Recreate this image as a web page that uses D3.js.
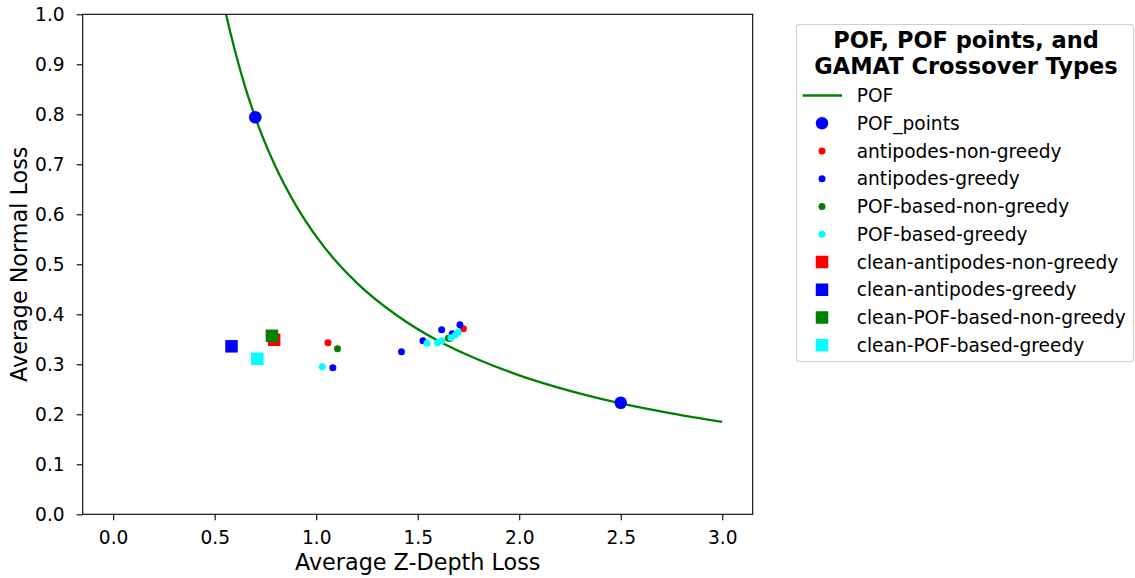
<!DOCTYPE html>
<html>
<head>
<meta charset="utf-8">
<script src="https://cdn.jsdelivr.net/npm/d3@7"></script>
<style>
  body { margin: 0; background: #fff; }
  svg { font-family: "DejaVu Sans", sans-serif; }
</style>
</head>
<body>
<div id="chart"></div>
<script>
// POF curve
const pofX = [0.50, 0.55, 0.60, 0.65, 0.70, 0.80, 0.90, 1.00, 1.10, 1.20, 1.40, 1.60, 1.80, 2.00, 2.25, 2.50, 2.75, 3.00];
const pofY = [1.112, 1.011, 0.927, 0.855, 0.794, 0.695, 0.618, 0.556, 0.505, 0.463, 0.397, 0.347, 0.309, 0.278, 0.247, 0.222, 0.202, 0.185];

const pofPointsX = [0.70, 2.50];
const pofPointsY = [0.794, 0.223];

const antipodesNonGreedyX = [1.058, 1.660, 1.725];
const antipodesNonGreedyY = [0.343, 0.352, 0.371];
const antipodesGreedyX = [1.082, 1.420, 1.526, 1.618, 1.670, 1.708];
const antipodesGreedyY = [0.293, 0.325, 0.347, 0.369, 0.361, 0.379];
const pofNonGreedyX = [1.105, 1.651];
const pofNonGreedyY = [0.331, 0.352];
const pofGreedyX = [1.030, 1.546, 1.597, 1.618, 1.664, 1.687, 1.700];
const pofGreedyY = [0.295, 0.342, 0.343, 0.347, 0.353, 0.359, 0.364];

const cleanAntipodesNonGreedy = [0.793, 0.349];
const cleanAntipodesGreedy = [0.583, 0.336];
const cleanPofNonGreedy = [0.782, 0.357];
const cleanPofGreedy = [0.710, 0.311];

const xTicks = [0.0, 0.5, 1.0, 1.5, 2.0, 2.5, 3.0];
const yTicks = [0.0, 0.1, 0.2, 0.3, 0.4, 0.5, 0.6, 0.7, 0.8, 0.9, 1.0];

const W = 1135, H = 578;
const margin = { top: 14.3, left: 82.7, width: 670, height: 500 };

const svg = d3.select("#chart").append("svg")
    .attr("width", W)
    .attr("height", H)
    .attr("viewBox", [0, 0, W, H]);

const x = d3.scaleLinear().domain([-0.15, 3.15]).range([margin.left, margin.left + margin.width]);
const y = d3.scaleLinear().domain([0, 1]).range([margin.top + margin.height, margin.top]);

svg.append("clipPath").attr("id", "clip")
    .append("rect")
    .attr("x", margin.left).attr("y", margin.top)
    .attr("width", margin.width).attr("height", margin.height);

const plot = svg.append("g").attr("clip-path", "url(#clip)");

// POF line
const pofData = pofX.map((v, i) => [v, pofY[i]]);
plot.append("path")
    .datum(pofData)
    .attr("fill", "none")
    .attr("stroke", "green")
    .attr("stroke-width", 2.3)
    .attr("d", d3.line().x(d => x(d[0])).y(d => y(d[1])).curve(d3.curveMonotoneX));

function dots(xs, ys, color, r) {
    plot.append("g").selectAll("circle")
        .data(xs.map((v, i) => [v, ys[i]]))
        .join("circle")
        .attr("cx", d => x(d[0]))
        .attr("cy", d => y(d[1]))
        .attr("r", r)
        .attr("fill", color);
}

dots(pofPointsX, pofPointsY, "blue", 6.3);
dots(antipodesNonGreedyX, antipodesNonGreedyY, "red", 3.5);
dots(antipodesGreedyX, antipodesGreedyY, "blue", 3.5);
dots(pofNonGreedyX, pofNonGreedyY, "green", 3.5);
dots(pofGreedyX, pofGreedyY, "cyan", 3.5);

const sq = 12.5;
[[cleanAntipodesNonGreedy, "red"], [cleanAntipodesGreedy, "blue"],
 [cleanPofNonGreedy, "green"], [cleanPofGreedy, "cyan"]].forEach(([p, c]) => {
    plot.append("rect")
        .attr("x", x(p[0]) - sq / 2)
        .attr("y", y(p[1]) - sq / 2)
        .attr("width", sq).attr("height", sq)
        .attr("fill", c);
});

// axes
const xAxis = svg.append("g")
    .attr("transform", `translate(0,${margin.top + margin.height})`)
    .call(d3.axisBottom(x).tickValues(xTicks).tickFormat(d3.format(".1f")).tickSize(6).tickPadding(10));
const yAxis = svg.append("g")
    .attr("transform", `translate(${margin.left},0)`)
    .call(d3.axisLeft(y).tickValues(yTicks).tickFormat(d3.format(".1f")).tickSize(6).tickPadding(12));

[xAxis, yAxis].forEach(g => {
    g.select(".domain").remove();
    g.selectAll("line").attr("stroke", "black").attr("stroke-width", 1.1);
    g.selectAll("text").attr("font-size", 18.6).attr("fill", "black").attr("font-family", "DejaVu Sans");
});

svg.append("rect")
    .attr("x", margin.left).attr("y", margin.top)
    .attr("width", margin.width).attr("height", margin.height)
    .attr("fill", "none").attr("stroke", "black").attr("stroke-width", 1.1);

svg.append("text")
    .attr("x", margin.left + margin.width / 2)
    .attr("y", 570)
    .attr("text-anchor", "middle")
    .attr("font-size", 22.3)
    .text("Average Z-Depth Loss");

svg.append("text")
    .attr("transform", `translate(26.5,${margin.top + margin.height / 2}) rotate(-90)`)
    .attr("text-anchor", "middle")
    .attr("font-size", 22.3)
    .text("Average Normal Loss");

// legend
const legendItems = [
    { label: "POF", type: "line", color: "green" },
    { label: "POF_points", type: "circle", color: "blue", r: 6.2 },
    { label: "antipodes-non-greedy", type: "circle", color: "red", r: 3.5 },
    { label: "antipodes-greedy", type: "circle", color: "blue", r: 3.5 },
    { label: "POF-based-non-greedy", type: "circle", color: "green", r: 3.5 },
    { label: "POF-based-greedy", type: "circle", color: "cyan", r: 3.5 },
    { label: "clean-antipodes-non-greedy", type: "square", color: "red" },
    { label: "clean-antipodes-greedy", type: "square", color: "blue" },
    { label: "clean-POF-based-non-greedy", type: "square", color: "green" },
    { label: "clean-POF-based-greedy", type: "square", color: "cyan" }
];

const legend = svg.append("g");
legend.append("rect")
    .attr("x", 796.5).attr("y", 24.5)
    .attr("width", 337).attr("height", 337)
    .attr("rx", 3)
    .attr("fill", "white").attr("fill-opacity", 0.8)
    .attr("stroke", "#d0d0d0").attr("stroke-width", 1.1);

const titleLines = ["POF, POF points, and", "GAMAT Crossover Types"];
legend.selectAll(".ltitle")
    .data(titleLines)
    .join("text")
    .attr("class", "ltitle")
    .attr("x", 966)
    .attr("y", (d, i) => 48.3 + i * 26)
    .attr("text-anchor", "middle")
    .attr("font-size", 22.5)
    .attr("font-weight", "bold")
    .text(d => d);

const row = legend.selectAll(".lrow")
    .data(legendItems)
    .join("g")
    .attr("class", "lrow")
    .attr("transform", (d, i) => `translate(822,${95.5 + i * 27.75})`);

row.each(function (d) {
    const g = d3.select(this);
    if (d.type === "line") {
        g.append("line").attr("x1", -19.3).attr("x2", 20).attr("stroke", d.color).attr("stroke-width", 2.3);
    } else if (d.type === "circle") {
        g.append("circle").attr("r", d.r).attr("fill", d.color);
    } else {
        g.append("rect").attr("x", -sq / 2).attr("y", -sq / 2).attr("width", sq).attr("height", sq).attr("fill", d.color);
    }
});

row.append("text")
    .attr("x", 34.7)
    .attr("dy", "0.35em")
    .attr("font-size", 18.6)
    .text(d => d.label);
</script>
</body>
</html>
